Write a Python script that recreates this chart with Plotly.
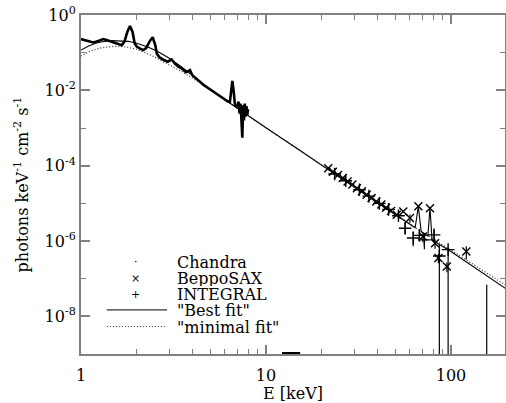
"""
Cas A のX線・硬X線スペクトル (Chandra / BeppoSAX / INTEGRAL とフィット)
"""
import plotly.graph_objects as go

# Chandra のスペクトル (keV, photons keV^-1 cm^-2 s^-1)
chandra_e = [1.00, 1.08, 1.165, 1.24, 1.32, 1.40, 1.50, 1.58, 1.66, 1.72,
             1.78, 1.84, 1.90, 1.95, 2.00, 2.10, 2.17, 2.25, 2.35, 2.44,
             2.52, 2.57, 2.65, 2.79, 2.95, 3.09, 3.20, 3.36, 3.50, 3.70,
             3.88, 4.00, 4.22, 4.60, 5.00, 5.42, 5.90, 6.20, 6.38, 6.48,
             6.58, 6.68, 6.80, 7.00, 7.10, 7.20, 7.28, 7.36, 7.45, 7.52,
             7.60, 7.68, 7.76, 7.84, 7.92, 8.00]
chandra_f = [0.229, 0.209, 0.186, 0.204, 0.229, 0.209, 0.186, 0.170, 0.158, 0.200,
             0.355, 0.513, 0.355, 0.178, 0.145, 0.126, 0.117, 0.132, 0.200, 0.257,
             0.158, 0.0955, 0.0759, 0.0646, 0.0575, 0.0661, 0.0525, 0.0427, 0.0380, 0.0302,
             0.0347, 0.0251, 0.0200, 0.0138, 0.0105, 0.00794, 0.00603, 0.00513, 0.00490, 0.0105,
             0.0178, 0.0100, 0.00398, 0.00380, 0.00501, 0.00240, 0.00447, 0.00178, 0.00055, 0.00398,
             0.00158, 0.00447, 0.00200, 0.00380, 0.00224, 0.00316]

# BeppoSAX
sax_e = [21.7, 23.0, 24.5, 26.0, 27.6, 29.3, 31.0, 33.0, 35.0, 37.2,
         39.5, 42.0, 44.6, 47.4, 50.9, 55.2, 60.0, 66.6, 70.5, 77.0,
         82.0, 85.5, 95.0, 121.0]
sax_f = [8.51e-5, 6.92e-5, 5.62e-5, 4.68e-5, 3.80e-5, 3.16e-5, 2.51e-5, 2.09e-5, 1.70e-5, 1.38e-5,
         1.12e-5, 9.33e-6, 7.59e-6, 6.31e-6, 5.01e-6, 6.03e-6, 4.07e-6, 8.32e-6, 1.32e-6, 7.41e-6,
         8.71e-7, 3.55e-7, 2.09e-7, 5.25e-7]
sax_err = [0, 0, 0, 0, 0, 0, 0, 0, 0, 0,
           0, 0, 0, 0, 0, 0, 1.0e-6, 0, 4.0e-7, 0,
           2.5e-7, 1.0e-7, 6.0e-8, 2.0e-7]

# INTEGRAL (上限・下限つき)
integral_e = [23.5, 27.0, 32.0, 36.0, 41.0, 46.0, 52.0, 56.5, 62.5, 67.5,
              71.8, 81.0, 86.5, 96.5, 156.0]
integral_f = [6.03e-5, 3.98e-5, 2.29e-5, 1.55e-5, 1.00e-5, 6.92e-6, 4.68e-6, 2.19e-6, 1.20e-6, 1.41e-6,
              1.07e-6, 1.45e-6, 3.98e-7, 5.89e-7, 1e-10]
integral_hi = [6.8e-5, 4.5e-5, 2.6e-5, 1.75e-5, 1.15e-5, 8.0e-6, 5.5e-6, 3.1e-6, 1.8e-6, 2.0e-6,
               1.6e-6, 2.0e-6, 7.9e-7, 6.6e-7, 6.9e-8]
integral_lo = [5.4e-5, 3.55e-5, 2.05e-5, 1.37e-5, 8.8e-6, 6.0e-6, 4.0e-6, 1.5e-6, 7.2e-7, 1.0e-6,
               6.0e-7, 1.0e-6, 1e-10, 1e-10, 1e-11]

# "Best fit" モデル
best_e = [1.0, 1.1, 1.2, 1.3, 1.45, 1.6, 1.8, 2.0, 2.3, 2.6,
          3.0, 3.5, 4.0, 5.0, 6.0, 8.0, 10, 15, 20, 30,
          40, 50, 60, 64, 66.6, 69, 75, 77, 79, 82,
          100, 150, 200]
best_f = [0.117, 0.151, 0.178, 0.195, 0.209, 0.209, 0.200, 0.178, 0.141, 0.107,
          0.0708, 0.0417, 0.0251, 0.0105, 0.00562, 0.00209, 0.00102, 2.69e-4, 1.02e-4, 2.69e-5,
          1.05e-5, 5.01e-6, 2.82e-6, 2.24e-6, 8.32e-6, 1.78e-6, 1.35e-6, 7.59e-6, 1.10e-6, 9.55e-7,
          5.25e-7, 1.38e-7, 5.25e-8]

# "minimal fit" モデル
min_e = [1.0, 1.1, 1.2, 1.3, 1.45, 1.6, 1.8, 2.0, 2.4, 2.9,
         3.5, 4.4, 5.0, 6.0, 8.0, 10, 15, 20, 30, 40,
         50, 60, 80, 100, 150, 200]
min_f = [0.0813, 0.105, 0.123, 0.135, 0.145, 0.148, 0.138, 0.123, 0.0851, 0.0525,
         0.0316, 0.0158, 0.0105, 0.00562, 0.00209, 0.00102, 2.69e-4, 1.02e-4, 2.69e-5, 1.05e-5,
         5.13e-6, 2.88e-6, 1.12e-6, 5.75e-7, 1.62e-7, 6.46e-8]

# 下端の軸上に残るマーク
axis_mark_e = [12.2, 15.3]
axis_mark_f = [1e-9, 1e-9]

# 軸目盛
x_major = [1, 10, 100]
x_labels = ['1', '10', '100']
x_minor = [2, 3, 4, 5, 6, 7, 8, 9, 20, 30, 40, 50, 60, 70, 80, 90, 200]
y_major = [1, 1e-2, 1e-4, 1e-6, 1e-8]
y_labels = ['10<sup>0</sup>', '10<sup>-2</sup>', '10<sup>-4</sup>',
            '10<sup>-6</sup>', '10<sup>-8</sup>']
y_minor = [1e-1, 1e-3, 1e-5, 1e-7]

# 凡例
legend_names = ['Chandra', 'BeppoSAX', 'INTEGRAL', '"Best fit"', '"minimal fit"']
legend_marks = ['·', '×', '+', None, None]

SERIF = 'DejaVu Serif'
AXIS_GRAY = '#808080'
DOTS = '1px,2px'


def add_data(fig: go.Figure) -> None:
    """データとモデルの追加"""
    fig.add_trace(go.Scatter(x=min_e, y=min_f, mode='lines',
                             line=dict(color='#333333', width=1.2, dash=DOTS)))
    fig.add_trace(go.Scatter(x=best_e, y=best_f, mode='lines',
                             line=dict(color='black', width=1.1)))
    fig.add_trace(go.Scatter(x=chandra_e, y=chandra_f, mode='lines',
                             line=dict(color='black', width=2.6)))
    fig.add_trace(go.Scatter(
        x=sax_e, y=sax_f, mode='markers',
        marker=dict(symbol='x-thin', size=8, line=dict(color='black', width=1.4)),
        error_y=dict(type='data', array=sax_err, color='black', thickness=1.2, width=0)
    ))
    fig.add_trace(go.Scatter(
        x=integral_e, y=integral_f, mode='markers',
        marker=dict(symbol='cross-thin', size=9, line=dict(color='black', width=1.4)),
        error_y=dict(type='data',
                     array=[h - f for h, f in zip(integral_hi, integral_f)],
                     arrayminus=[f - lo for f, lo in zip(integral_f, integral_lo)],
                     color='black', thickness=1.2, width=0)
    ))
    fig.add_trace(go.Scatter(x=axis_mark_e, y=axis_mark_f, mode='lines',
                             line=dict(color='black', width=4)))


def add_legend(fig: go.Figure) -> None:
    """凡例を手で配置"""
    rows_y = [0.271, 0.224, 0.177, 0.130, 0.081]
    for i, (name, mark) in enumerate(zip(legend_names, legend_marks)):
        y = rows_y[i]
        fig.add_annotation(x=0.224, y=y, xref='paper', yref='paper', text=name,
                           showarrow=False, xanchor='left', yanchor='middle',
                           height=16, borderpad=0,
                           font=dict(family=SERIF, size=16, color='black'))
        if mark is not None:
            fig.add_annotation(x=0.1297, y=y, xref='paper', yref='paper', text=mark,
                               showarrow=False, xanchor='center', yanchor='middle',
                               height=12, borderpad=0,
                               font=dict(family=SERIF, size=11, color='black'))
    fig.add_shape(type='line', xref='paper', yref='paper', x0=0.061, x1=0.203,
                  y0=rows_y[3], y1=rows_y[3], line=dict(color='black', width=1))
    fig.add_shape(type='line', xref='paper', yref='paper', x0=0.061, x1=0.203,
                  y0=rows_y[4], y1=rows_y[4], line=dict(color='#333333', width=1, dash=DOTS))


def update_layout(fig: go.Figure) -> None:
    """レイアウト更新"""
    tick_font = dict(family=SERIF, size=16, color='black')
    common = dict(type='log', ticks='inside', ticklen=9, tickwidth=1.5,
                  tickcolor=AXIS_GRAY, showline=True, linecolor=AXIS_GRAY,
                  linewidth=2, mirror='ticks', showgrid=False, zeroline=False,
                  tickfont=tick_font, automargin=False)
    fig.update_xaxes(range=[0, 2.292], tickvals=x_major, ticktext=x_labels,
                     ticklabelstandoff=6,
                     minor=dict(tickvals=x_minor, ticks='inside', ticklen=5,
                                tickwidth=1, tickcolor=AXIS_GRAY, showgrid=False),
                     title=dict(text='E [keV]', font=tick_font, standoff=10),
                     **common)
    fig.update_yaxes(range=[-9, 0], tickvals=y_major, ticktext=y_labels,
                     minor=dict(tickvals=y_minor, ticks='inside', ticklen=5,
                                tickwidth=1, tickcolor=AXIS_GRAY, showgrid=False),
                     title=dict(text='photons keV<sup>-1</sup> cm<sup>-2</sup> s<sup>-1</sup>',
                                font=tick_font, standoff=12),
                     **common)
    fig.update_layout(width=506, height=403,
                      margin=dict(l=81, r=1, t=15, b=49),
                      plot_bgcolor='white', paper_bgcolor='white',
                      showlegend=False)


fig = go.Figure()
add_data(fig)
add_legend(fig)
update_layout(fig)
# ページ余白をなくして 506x403 にぴったり収める
fig.write_html("out.html", config={'displayModeBar': False},
               post_script="document.body.style.margin='0';")
